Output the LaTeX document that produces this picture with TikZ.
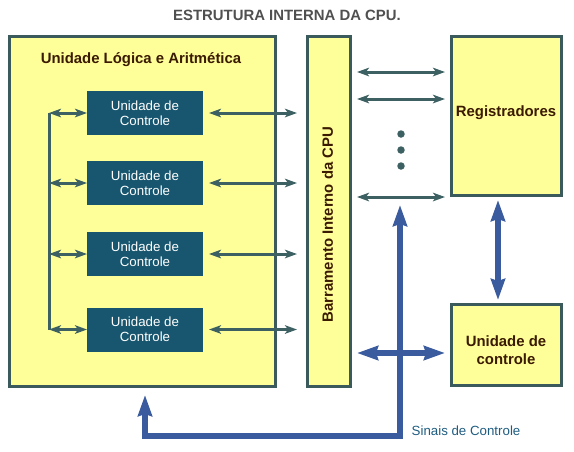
\documentclass[tikz,border=0pt]{standalone}
\usepackage{fontspec}
\setmainfont{Liberation Sans}
\usetikzlibrary{arrows.meta}
\definecolor{boxfill}{HTML}{FFFF99}
\definecolor{boxline}{HTML}{3A5A5C}
\definecolor{cufill}{HTML}{17566E}
\definecolor{arrowc}{HTML}{3D6062}
\definecolor{bluec}{HTML}{3A5C9E}
\definecolor{brownc}{HTML}{3A1A00}
\definecolor{sinc}{HTML}{1F5C80}
\definecolor{titlec}{HTML}{505050}
\begin{document}
\begin{tikzpicture}[x=1pt,y=-1pt,
  bigbox/.style={draw=boxline,fill=boxfill,line width=3pt,inner sep=0pt,outer sep=0pt,rectangle},
  cubox/.style={fill=cufill,text=white,inner sep=0pt,outer sep=0pt,minimum width=116pt,minimum height=44pt,align=center,font=\fontsize{13.3}{15}\selectfont},
  boldlbl/.style={text=brownc,font=\fontsize{14.9}{18}\selectfont\bfseries,align=center},
  sarrow/.style={draw=arrowc,line width=3pt,{Stealth[length=12pt,width=8.5pt,inset=3pt]}-{Stealth[length=12pt,width=8.5pt,inset=3pt]}},
  barrow/.style={draw=bluec,line width=6pt,miter limit=10,{Stealth[length=21pt,width=14pt,inset=2pt]}-{Stealth[length=21pt,width=14pt,inset=2pt]}},
  dotc/.style={circle,fill=arrowc,inner sep=0pt,minimum size=7.5pt}]
\useasboundingbox (0,0) rectangle (574,451);
% title
\node[text=titlec,font=\fontsize{14.9}{17}\selectfont\bfseries] (title) at (287,15) {ESTRUTURA INTERNA DA CPU.};
% main boxes
\node[bigbox,minimum width=265.5pt,minimum height=349.5pt] (alu) at (142.25,211.25) {};
\node[boldlbl] (alutxt) at (141,60) {Unidade Lógica e Aritmética};
\node[bigbox,minimum width=43pt,minimum height=349.5pt] (bus) at (329,211.25) {};
\node[boldlbl,rotate=90] (bustxt) at (327.5,224.5) {Barramento Interno da CPU};
\node[bigbox,minimum width=110pt,minimum height=159pt] (reg) at (506.5,116) {};
\node[boldlbl] (regtxt) at (506,112.5) {Registradores};
\node[bigbox,minimum width=110pt,minimum height=81pt] (cur) at (506.5,345) {};
\node[boldlbl] (curtxt) at (506,350) {Unidade de\\controle};
% control units in ALU
\node[cubox] (cu1) at (145,113) {Unidade de\\Controle};
\node[cubox] (cu2) at (145,183) {Unidade de\\Controle};
\node[cubox] (cu3) at (145,254) {Unidade de\\Controle};
\node[cubox] (cu4) at (145,329.5) {Unidade de\\Controle};
% left vertical line
\coordinate (l1) at (49,113);
\coordinate (l2) at (49,183);
\coordinate (l3) at (49,254);
\coordinate (l4) at (49,329.5);
\draw[draw=arrowc,line width=3pt] (l1) -- (l4);
\foreach \i in {1,...,4}{
  \draw[sarrow] (l\i) -- (cu\i.west);
  \draw[sarrow,shorten <=6pt,shorten >=10.5pt] (cu\i.east) -- (bus.west |- cu\i.east);
}
% bus to registers
\coordinate (r1) at (451.5,72);
\coordinate (r2) at (451.5,99);
\coordinate (r3) at (451.5,197);
\foreach \i in {1,2,3}{
  \draw[sarrow,shorten <=6.5pt,shorten >=6.5pt] (bus.east |- r\i) -- (r\i);
}
\node[dotc] (d1) at (401,134) {};
\node[dotc] (d2) at (401,150) {};
\node[dotc] (d3) at (401,166) {};
% blue arrows
\draw[barrow,shorten <=4.5pt,shorten >=4.5pt] ([xshift=-8.5pt]reg.south) -- ([xshift=-8.5pt]reg.south |- cur.north);
\coordinate (bh) at (0,353);
\draw[barrow,shorten <=6.5pt,shorten >=6.5pt] (bus.east |- bh) -- (cur.west |- bh);
\coordinate (s0) at (145,395);
\coordinate (s1) at (145,435.5);
\coordinate (s2) at (400,435.5);
\coordinate (s3) at (400,205);
\draw[barrow] (s0) -- (s1) -- (s2) -- (s3);
\node[anchor=west,text=sinc,font=\fontsize{13.3}{15}\selectfont,inner sep=0pt] (sin) at (411.5,431) {Sinais de Controle};
\end{tikzpicture}
\end{document}
